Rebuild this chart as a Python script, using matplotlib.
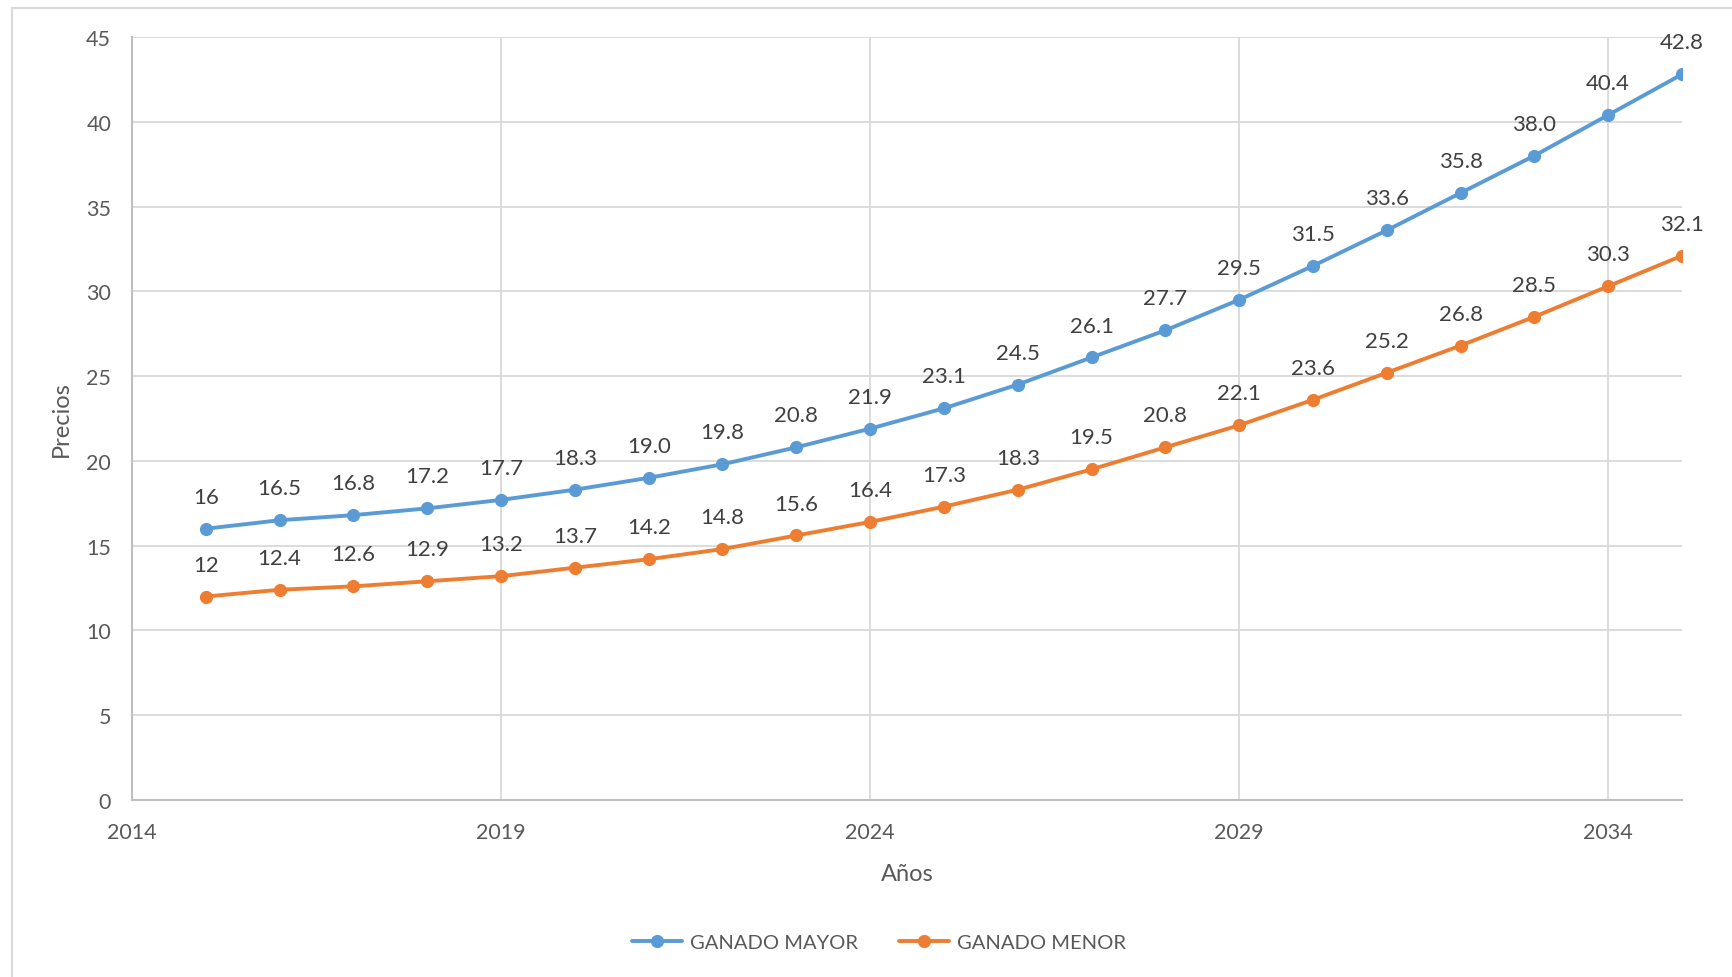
import matplotlib
matplotlib.use("Agg")
import matplotlib.pyplot as plt
from matplotlib.lines import Line2D

years = list(range(2015, 2036))
mayor = [16, 16.5, 16.8, 17.2, 17.7, 18.3, 19.0, 19.8, 20.8, 21.9, 23.1, 24.5,
         26.1, 27.7, 29.5, 31.5, 33.6, 35.8, 38.0, 40.4, 42.8]
menor = [12, 12.4, 12.6, 12.9, 13.2, 13.7, 14.2, 14.8, 15.6, 16.4, 17.3, 18.3,
         19.5, 20.8, 22.1, 23.6, 25.2, 26.8, 28.5, 30.3, 32.1]
mayor_labels = ["16"] + [f"{v:.1f}" for v in mayor[1:]]
menor_labels = ["12"] + [f"{v:.1f}" for v in menor[1:]]
x_ticks = [2014, 2019, 2024, 2029, 2034]
y_ticks = list(range(0, 50, 5))

plt.rcParams['font.family'] = ['Lato', 'DejaVu Sans']

W, H = 1733, 978
fig = plt.figure(figsize=(W / 100, H / 100), dpi=100)
ax = fig.add_axes([132 / W, 1 - 801 / H, (1682 - 132) / W, (801 - 38) / H])

blue = '#5B9BD5'
orange = '#ED7D31'
txt = '#595959'
lbl = '#404040'

ax.plot(years, mayor, color=blue, lw=2.8, marker='o', ms=8.5, label='GANADO MAYOR',
        solid_capstyle='round', zorder=3)
ax.plot(years, menor, color=orange, lw=2.8, marker='o', ms=8.5, label='GANADO MENOR',
        solid_capstyle='round', zorder=3)

for x, y, s in zip(years, mayor, mayor_labels):
    ax.annotate(s, (x, y), xytext=(0, 23), textcoords='offset points',
                ha='center', va='center', fontsize=16, color=lbl)
for x, y, s in zip(years, menor, menor_labels):
    ax.annotate(s, (x, y), xytext=(0, 23), textcoords='offset points',
                ha='center', va='center', fontsize=16, color=lbl)

ax.set_xlim(2014, 2035)
ax.set_ylim(0, 45)
ax.set_xticks(x_ticks)
ax.set_yticks(y_ticks)
ax.grid(True, color='#D9D9D9', lw=1.3)
ax.set_axisbelow(True)
for side in ['top', 'right']:
    ax.spines[side].set_visible(False)
for side in ['left', 'bottom']:
    ax.spines[side].set_color('#BFBFBF')
    ax.spines[side].set_linewidth(1.5)
ax.tick_params(length=0, labelsize=15.5, labelcolor=txt)
ax.tick_params(axis='x', pad=16)
ax.tick_params(axis='y', pad=15)

ax.set_xlabel('Años', fontsize=17, color=txt, labelpad=15)
ax.set_ylabel('Precios', fontsize=17, color=txt, labelpad=10)

leg = fig.legend(loc='center', bbox_to_anchor=(879 / W, 1 - 943 / H), ncol=2,
                 frameon=False, fontsize=14.5, handlelength=2.5, columnspacing=2.0,
                 handletextpad=0.4)
for t in leg.get_texts():
    t.set_color(txt)

# outer frame (left and top edges visible)
fig.add_artist(Line2D([12 / W, 12 / W], [0, 1 - 9 / H], transform=fig.transFigure,
                      color='#D9D9D9', lw=1.5))
fig.add_artist(Line2D([12 / W, 1], [1 - 9 / H, 1 - 9 / H], transform=fig.transFigure,
                      color='#D9D9D9', lw=1.5))

fig.savefig('out.png', dpi=100)
